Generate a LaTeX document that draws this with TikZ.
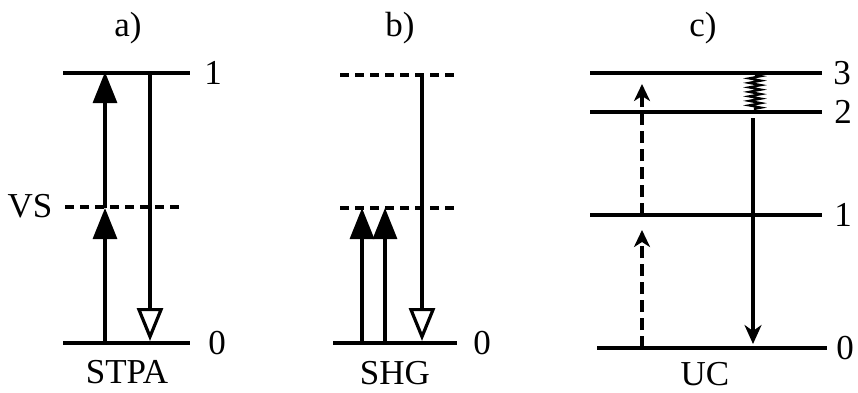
\documentclass[tikz,border=0pt]{standalone}
\usepackage{fontspec}
\setmainfont{Liberation Serif}
\usepackage{tikz}
\usetikzlibrary {
  arrows.meta,
  positioning,
  decorations.pathmorphing,
}
\tikzset{
  lvline/.style = {
    line width = 3.6pt
  },
  vsline/.style = {
    line width = 3.6pt,
    dash pattern = on 9pt off 6pt
  },
  pump/.style = {
    line width = 3.2pt,
    -{Triangle[width = 24pt, length = 31pt]}
  },
  emit/.style = {
    line width = 3.2pt,
    -{Triangle[open, width = 26pt, length = 33pt, line width' = 3.2pt]}
  },
  absorb/.style = {
    line width = 3.4pt,
    dash pattern = on 12pt off 6pt,
    -{Stealth[width = 16pt, length = 17pt, inset = 5pt]},
    shorten > = 15pt
  },
  decay/.style = {
    line width = 3.1pt,
    -{Stealth[width = 17pt, length = 19pt, inset = 6pt]},
    shorten < = 6pt,
    shorten > = 4pt
  },
  relax/.style = {
    line width = 2.2pt,
    decorate,
    decoration = {zigzag, segment length = 4.5pt, amplitude = 6pt}
  },
  lbl/.style = {
    inner sep = 0pt,
    font = \fontsize{35}{40}\selectfont
  },
}

\begin{document}
\begin{tikzpicture}[x = 1pt, y = -1pt]
  \useasboundingbox (0,0) rectangle (858,392);

  % a) STPA
  \coordinate (a1l) at (63,73);   \coordinate (a1r) at (190,73);
  \coordinate (aVl) at (65,207);  \coordinate (aVr) at (183,207);
  \coordinate (a0l) at (63,343);  \coordinate (a0r) at (190,343);
  \coordinate (aup0) at (105,343); \coordinate (aupV) at (105,208);
  \coordinate (aup1) at (105,72);
  \coordinate (adn1) at (150,73); \coordinate (adn0) at (150,341);
  \draw[lvline] (a1l) -- (a1r);
  \draw[vsline] (aVl) -- (aVr);
  \draw[lvline] (a0l) -- (a0r);
  \draw[pump] (aup0) -- (aupV);
  \draw[pump] (aupV) -- (aup1);
  \draw[emit] (adn1) -- (adn0);
  \node[lbl] (atitle) at (128,28) {a)};
  \node[lbl] (alab1) at (213,73) {1};
  \node[lbl] (alabV) at (30,206) {VS};
  \node[lbl] (alab0) at (217,343) {0};
  \node[lbl] (aname) at (127,372) {STPA};

  % b) SHG
  \coordinate (b2l) at (340,75);  \coordinate (b2r) at (457,75);
  \coordinate (bVl) at (340,208); \coordinate (bVr) at (457,208);
  \coordinate (b0l) at (333,343); \coordinate (b0r) at (457,343);
  \coordinate (bupA0) at (362,343); \coordinate (bupA1) at (362,208);
  \coordinate (bupB0) at (385,343); \coordinate (bupB1) at (385,208);
  \coordinate (bdn1) at (422,75);  \coordinate (bdn0) at (422,341);
  \draw[vsline] (b2l) -- (b2r);
  \draw[vsline] (bVl) -- (bVr);
  \draw[lvline] (b0l) -- (b0r);
  \draw[pump] (bupA0) -- (bupA1);
  \draw[pump] (bupB0) -- (bupB1);
  \draw[emit] (bdn1) -- (bdn0);
  \node[lbl] (btitle) at (400,28) {b)};
  \node[lbl] (blab0) at (482,343) {0};
  \node[lbl] (bname) at (395,373) {SHG};

  % c) UC
  \coordinate (c3l) at (590,73);  \coordinate (c3r) at (822,73);
  \coordinate (c2l) at (590,112); \coordinate (c2r) at (822,112);
  \coordinate (c1l) at (590,215); \coordinate (c1r) at (822,215);
  \coordinate (c0l) at (597,348); \coordinate (c0r) at (827,348);
  \coordinate (cup0) at (642,348); \coordinate (cup1) at (642,215);
  \coordinate (cup2) at (642,84);
  \coordinate (cdn2) at (753,112); \coordinate (cdn0) at (753,348);
  \coordinate (czz3) at (755,75); \coordinate (czz2) at (755,110);
  \draw[lvline] (c3l) -- (c3r);
  \draw[lvline] (c2l) -- (c2r);
  \draw[lvline] (c1l) -- (c1r);
  \draw[lvline] (c0l) -- (c0r);
  \draw[absorb] (cup0) -- (cup1);
  \draw[absorb, shorten > = 0pt] (cup1) -- (cup2);
  \draw[relax] (czz3) -- (czz2);
  \draw[decay] (cdn2) -- (cdn0);
  \node[lbl] (ctitle) at (703,28) {c)};
  \node[lbl] (clab3) at (842,73) {3};
  \node[lbl] (clab2) at (843,112) {2};
  \node[lbl] (clab1) at (843,215) {1};
  \node[lbl] (clab0) at (845,348) {0};
  \node[lbl] (cname) at (705,374) {UC};
\end{tikzpicture}
\end{document}
